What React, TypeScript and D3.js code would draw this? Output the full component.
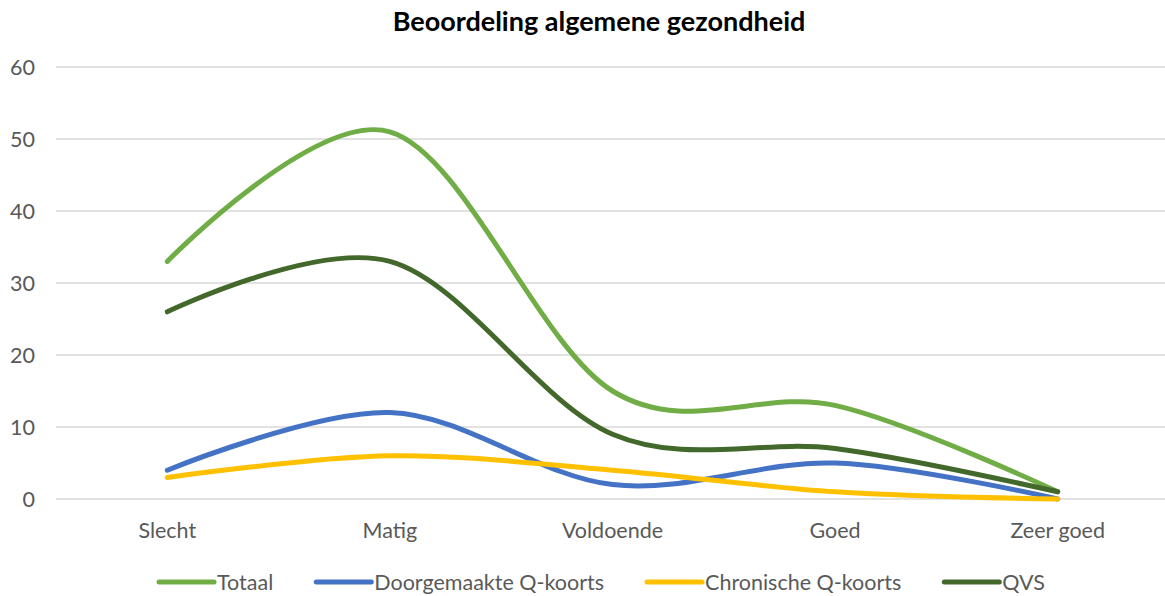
import React, { useEffect, useRef } from "react";
import * as d3 from "d3";

const categories = ["Slecht", "Matig", "Voldoende", "Goed", "Zeer goed"];
const totaal = [33, 51, 15, 13, 1];
const doorgemaakt = [4, 12, 2, 5, 0];
const chronisch = [3, 6, 4, 1, 0];
const qvs = [26, 33, 9, 7, 1];
const yTicks = [0, 10, 20, 30, 40, 50, 60];
const title = "Beoordeling algemene gezondheid";

const series = [
  { name: "Totaal", values: totaal, color: "#70AD47" },
  { name: "Doorgemaakte Q-koorts", values: doorgemaakt, color: "#4472C4" },
  { name: "Chronische Q-koorts", values: chronisch, color: "#FFC000" },
  { name: "QVS", values: qvs, color: "#43682B" },
];

const W = 1165;
const H = 596;
const FONT = "Lato, 'Open Sans', sans-serif";

export default function App() {
  const legendRef = useRef<SVGGElement>(null);

  const x = d3.scaleBand().domain(categories).range([56, 1169]).padding(0);
  const y = d3.scaleLinear().domain([0, 60]).range([499, 67]);
  const line = d3
    .line<number>()
    .x((_, i) => (x(categories[i]) as number) + x.bandwidth() / 2)
    .y((d) => y(d))
    .curve(d3.curveCatmullRom.alpha(0));

  useEffect(() => {
    const g = d3.select(legendRef.current);
    g.selectAll("*").remove();
    const lineLen = 55;
    const gapAfterLine = 3;
    const gapBetween = 43;
    const items = g.selectAll("g").data(series).join("g");
    items
      .append("line")
      .attr("x1", 0)
      .attr("x2", lineLen)
      .attr("y1", 0)
      .attr("y2", 0)
      .attr("stroke", (d) => d.color)
      .attr("stroke-width", 5)
      .attr("stroke-linecap", "round");
    items
      .append("text")
      .attr("x", lineLen + gapAfterLine)
      .attr("y", 0)
      .attr("dy", "0.35em")
      .attr("fill", "#595959")
      .attr("font-size", 21.5)
      .attr("font-family", FONT)
      .text((d) => d.name);
    const widths: number[] = [];
    items.each(function () {
      const t = d3.select(this).select("text").node() as SVGTextElement;
      widths.push(lineLen + gapAfterLine + t.getComputedTextLength());
    });
    const total = widths.reduce((a, b) => a + b, 0) + gapBetween * (widths.length - 1);
    let cx = W / 2 - total / 2 + 19.5;
    items.attr("transform", (_, i) => {
      const tx = cx;
      cx += widths[i] + gapBetween;
      return `translate(${tx},582)`;
    });
  }, []);

  return (
    <svg width={W} height={H} style={{ position: "absolute", left: 0, top: 0, background: "#fff" }}>
      <text
        x={599}
        y={31}
        textAnchor="middle"
        fontFamily={FONT}
        fontWeight="bold"
        fontSize={27}
        fill="#000"
      >
        {title}
      </text>
      {yTicks.map((t) => (
        <g key={t}>
          <line x1={56} x2={1165} y1={y(t)} y2={y(t)} stroke="#D9D9D9" strokeWidth={1.3} />
          <text
            x={35}
            y={y(t)}
            dy="0.35em"
            textAnchor="end"
            fontFamily={FONT}
            fontSize={21.5}
            fill="#595959"
          >
            {t}
          </text>
        </g>
      ))}
      {categories.map((c) => (
        <text
          key={c}
          x={(x(c) as number) + x.bandwidth() / 2}
          y={530}
          dy="0.35em"
          textAnchor="middle"
          fontFamily={FONT}
          fontSize={21.5}
          fill="#595959"
        >
          {c}
        </text>
      ))}
      {series.map((s) => (
        <path
          key={s.name}
          d={line(s.values) || ""}
          fill="none"
          stroke={s.color}
          strokeWidth={5}
          strokeLinecap="round"
          strokeLinejoin="round"
        />
      ))}
      <g ref={legendRef} />
    </svg>
  );
}
